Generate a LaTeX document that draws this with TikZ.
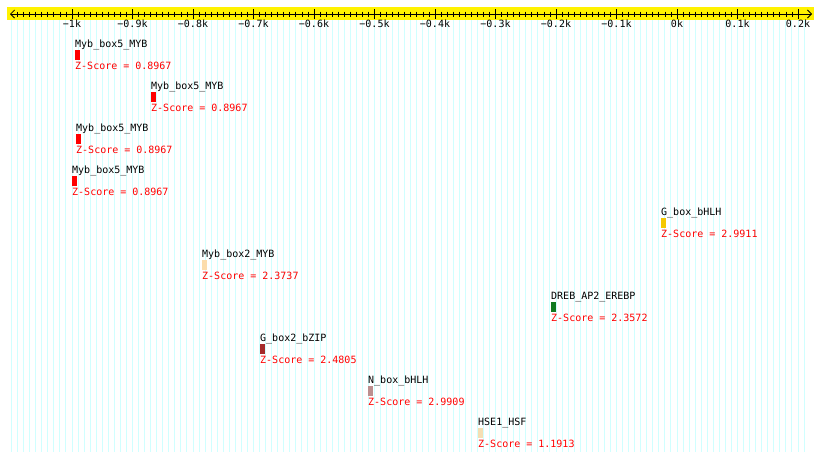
\documentclass[tikz,border=0pt]{standalone}
\usepackage{fontspec}
\setmonofont{DejaVu Sans Mono}
\usetikzlibrary{arrows.meta,positioning}
\definecolor{gridcyan}{RGB}{208,255,255}
\definecolor{gboxgold}{RGB}{245,200,0}
\definecolor{mybpeach}{RGB}{252,220,172}
\definecolor{drebgreen}{RGB}{16,122,32}
\definecolor{bzipbrown}{RGB}{165,42,42}
\definecolor{nboxrose}{RGB}{188,143,143}
\definecolor{hsewheat}{RGB}{245,222,179}
\begin{document}
\begin{tikzpicture}[x=1pt,y=-1pt,
    font=\ttfamily\fontsize{10}{12}\selectfont,
    motif/.style={anchor=base west,inner sep=0pt},
    motifbar/.style={anchor=north west,inner sep=0pt,minimum width=5pt,minimum height=9.5pt},
    zscore/.style={anchor=base west,inner sep=0pt,text=red}]
    \fill[white] (0,0) rectangle (820,461);
    \useasboundingbox (0,0) rectangle (820,461);
    % grid lines every 10 bp
    \foreach \k in {-110,...,21}
        \draw[gridcyan,line width=1pt] (677+6.05*\k,20) -- (677+6.05*\k,452);
    % axis band
    \fill[yellow] (7,7) rectangle (814,20);
    \coordinate (axL) at (10,14);
    \coordinate (axR) at (812,14);
    \draw[{Straight Barb[length=4pt,width=8pt]}-{Straight Barb[length=4pt,width=8pt]},line width=0.8pt] (axL) -- (axR);
    % minor ticks
    \foreach \k in {-109,...,19}
        \draw[line width=0.8pt] (677+6.05*\k,11.5) -- ++(0,5);
    % major ticks with labels
    \foreach \k/\lab in {-10/−1k,-9/−0.9k,-8/−0.8k,-7/−0.7k,-6/−0.6k,-5/−0.5k,-4/−0.4k,-3/−0.3k,-2/−0.2k,-1/−0.1k,0/0k,1/0.1k,2/0.2k}
        \draw[line width=0.8pt] (677+60.5*\k,9) -- (677+60.5*\k,19) node[anchor=base,inner sep=0pt,yshift=-8pt]{\lab};
    % Myb_box5_MYB (1)
    \node[motif] (m1) at (75,47) {Myb\_box5\_MYB};
    \node[motifbar,fill=red] (b1) at ([yshift=-3pt]m1.base west) {};
    \node[zscore] (z1) at ([yshift=-22pt]m1.base west) {Z-Score = 0.8967};
    % Myb_box5_MYB (2)
    \node[motif] (m2) at (151,89) {Myb\_box5\_MYB};
    \node[motifbar,fill=red] (b2) at ([yshift=-3pt]m2.base west) {};
    \node[zscore] (z2) at ([yshift=-22pt]m2.base west) {Z-Score = 0.8967};
    % Myb_box5_MYB (3)
    \node[motif] (m3) at (76,131) {Myb\_box5\_MYB};
    \node[motifbar,fill=red] (b3) at ([yshift=-3pt]m3.base west) {};
    \node[zscore] (z3) at ([yshift=-22pt]m3.base west) {Z-Score = 0.8967};
    % Myb_box5_MYB (4)
    \node[motif] (m4) at (72,173) {Myb\_box5\_MYB};
    \node[motifbar,fill=red] (b4) at ([yshift=-3pt]m4.base west) {};
    \node[zscore] (z4) at ([yshift=-22pt]m4.base west) {Z-Score = 0.8967};
    % G_box_bHLH
    \node[motif] (m5) at (661,215) {G\_box\_bHLH};
    \node[motifbar,fill=gboxgold] (b5) at ([yshift=-3pt]m5.base west) {};
    \node[zscore] (z5) at ([yshift=-22pt]m5.base west) {Z-Score = 2.9911};
    % Myb_box2_MYB
    \node[motif] (m6) at (202,257) {Myb\_box2\_MYB};
    \node[motifbar,fill=mybpeach] (b6) at ([yshift=-3pt]m6.base west) {};
    \node[zscore] (z6) at ([yshift=-22pt]m6.base west) {Z-Score = 2.3737};
    % DREB_AP2_EREBP
    \node[motif] (m7) at (551,299) {DREB\_AP2\_EREBP};
    \node[motifbar,fill=drebgreen] (b7) at ([yshift=-3pt]m7.base west) {};
    \node[zscore] (z7) at ([yshift=-22pt]m7.base west) {Z-Score = 2.3572};
    % G_box2_bZIP
    \node[motif] (m8) at (260,341) {G\_box2\_bZIP};
    \node[motifbar,fill=bzipbrown] (b8) at ([yshift=-3pt]m8.base west) {};
    \node[zscore] (z8) at ([yshift=-22pt]m8.base west) {Z-Score = 2.4805};
    % N_box_bHLH
    \node[motif] (m9) at (368,383) {N\_box\_bHLH};
    \node[motifbar,fill=nboxrose] (b9) at ([yshift=-3pt]m9.base west) {};
    \node[zscore] (z9) at ([yshift=-22pt]m9.base west) {Z-Score = 2.9909};
    % HSE1_HSF
    \node[motif] (m10) at (478,425) {HSE1\_HSF};
    \node[motifbar,fill=hsewheat] (b10) at ([yshift=-3pt]m10.base west) {};
    \node[zscore] (z10) at ([yshift=-22pt]m10.base west) {Z-Score = 1.1913};
\end{tikzpicture}
\end{document}
